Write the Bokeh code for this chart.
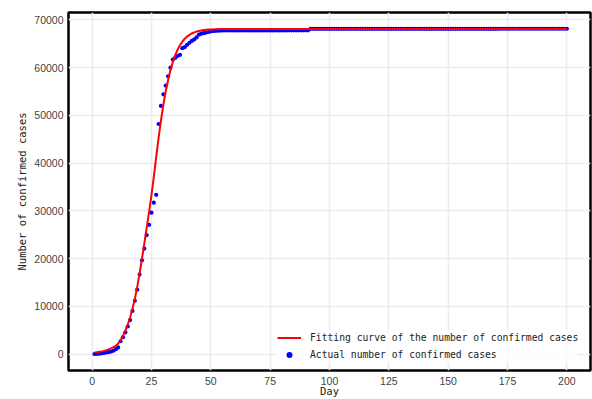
from bokeh.plotting import figure
from bokeh.models import Range1d, FixedTicker, Legend, LegendItem, ColumnDataSource
from bokeh.embed import file_html
from bokeh.resources import INLINE

# ---- data ----
days = list(range(1, 201))

actual_cases = [
    45, 62, 121, 198, 270, 375, 444, 549, 729, 1052,
    1423, 2714, 3554, 4586, 5806, 7153, 9074, 11177, 13522, 16678,
    19665, 22112, 24953, 27100, 29631, 31728, 33366, 48206, 51986, 54406,
    56249, 58182, 59989, 61682, 62031, 62442, 62662, 64084, 64287, 64786,
    65187, 65596, 65914, 66337, 66907, 67103, 67217, 67332, 67466, 67592,
    67666, 67707, 67743, 67760, 67773, 67781, 67786, 67790, 67794, 67798,
    67799, 67800, 67800, 67800, 67800, 67800, 67800, 67801, 67801, 67801,
    67801, 67801, 67801, 67801, 67801, 67802, 67802, 67802, 67802, 67802,
    67802, 67802, 67803, 67803, 67803, 67803, 67803, 67803, 67803, 67803,
    67803, 68128, 68128, 68128, 68128, 68128, 68128, 68128, 68128, 68128,
    68128, 68128, 68128, 68128, 68128, 68128, 68128, 68128, 68128, 68128,
    68128, 68130, 68130, 68130, 68130, 68130, 68130, 68130, 68130, 68130,
    68130, 68130, 68130, 68130, 68130, 68130, 68130, 68130, 68130, 68130,
    68130, 68134, 68134, 68134, 68134, 68134, 68134, 68134, 68134, 68134,
    68134, 68134, 68134, 68134, 68134, 68134, 68134, 68134, 68134, 68134,
    68134, 68135, 68135, 68135, 68135, 68135, 68135, 68135, 68135, 68135,
    68135, 68135, 68135, 68135, 68135, 68135, 68135, 68135, 68135, 68135,
    68135, 68138, 68138, 68138, 68138, 68138, 68138, 68138, 68138, 68138,
    68138, 68138, 68138, 68138, 68138, 68138, 68138, 68138, 68138, 68138,
    68138, 68138, 68138, 68138, 68138, 68138, 68138, 68138, 68138, 68138,
]

fit_days = list(range(1, 51)) + [52, 55, 60, 70, 200]
fit_values = [
    360, 430, 510, 600, 700, 840, 1020, 1240, 1480, 1780,
    2250, 2950, 3850, 4950, 6200, 7700, 9500, 11600, 14100, 16900,
    20000, 23200, 26500, 29800, 33300, 37200, 41300, 45300, 48900, 52200,
    55000, 57400, 59500, 61200, 62600, 63750, 64700, 65450, 66050, 66500,
    66870, 67150, 67380, 67550, 67680, 67780, 67860, 67920, 67965, 68000,
    68040, 68065, 68078, 68080, 68080,
]

x_ticks = [0, 25, 50, 75, 100, 125, 150, 175, 200]
y_ticks = [0, 10000, 20000, 30000, 40000, 50000, 60000, 70000]

fit_label = "Fitting curve of the number of confirmed cases"
actual_label = "Actual number of confirmed cases"

# ---- figure ----
p = figure(width=592, height=399, output_backend="svg", toolbar_location=None,
           x_range=Range1d(-9.95, 209.95), y_range=Range1d(-3405, 71545))
p.min_border_left = 68
p.min_border_top = 12
p.min_border_right = 2
p.min_border_bottom = 29
p.background_fill_color = "white"
p.border_fill_color = "white"
p.outline_line_color = "black"
p.outline_line_width = 2.5

mono = "DejaVu Sans Mono"
sans = "Liberation Sans"

for ax in (p.xaxis[0], p.yaxis[0]):
    ax.axis_line_color = None
    ax.major_tick_line_color = None
    ax.minor_tick_line_color = None
    ax.major_tick_out = 0
    ax.major_tick_in = 0
    ax.minor_tick_out = 0
    ax.minor_tick_in = 0
    ax.major_label_text_font = sans
    ax.major_label_text_font_size = "10.5px"
    ax.major_label_text_color = "#444444"
    ax.major_label_standoff = 5
    ax.axis_label_text_font = mono
    ax.axis_label_text_font_size = "10.5px"
    ax.axis_label_text_font_style = "normal"
    ax.axis_label_text_color = "#222222"

p.xaxis.ticker = FixedTicker(ticks=x_ticks)
p.yaxis.ticker = FixedTicker(ticks=y_ticks)
p.xaxis.axis_label = "Day"
p.yaxis.axis_label = "Number of confirmed cases"
p.xaxis.major_label_standoff = 6
p.xaxis.axis_label_standoff = -3
p.yaxis.axis_label_standoff = 3

p.grid.grid_line_color = "#ebebf2"
p.grid.grid_line_width = 1.6

src_a = ColumnDataSource(dict(x=days, y=actual_cases))
src_f = ColumnDataSource(dict(x=fit_days, y=fit_values))

r_pts = p.scatter("x", "y", source=src_a, size=4.2, fill_color="blue",
                  line_color=None, marker="circle")
r_fit = p.line("x", "y", source=src_f, line_color="red", line_width=2)

legend = Legend(items=[LegendItem(label=fit_label, renderers=[r_fit]),
                       LegendItem(label=actual_label, renderers=[r_pts])],
                location=(209, 8))
legend.label_text_font = mono
legend.label_text_font_size = "9.7px"
legend.label_text_color = "#222222"
legend.glyph_width = 24
legend.glyph_height = 15
legend.label_height = 15
legend.label_standoff = 9
legend.spacing = 2
legend.padding = 4
legend.margin = 0
legend.border_line_color = None
legend.background_fill_color = "white"
legend.background_fill_alpha = 0.8
p.add_layout(legend)

open("out.html", "w").write(file_html(p, INLINE))
